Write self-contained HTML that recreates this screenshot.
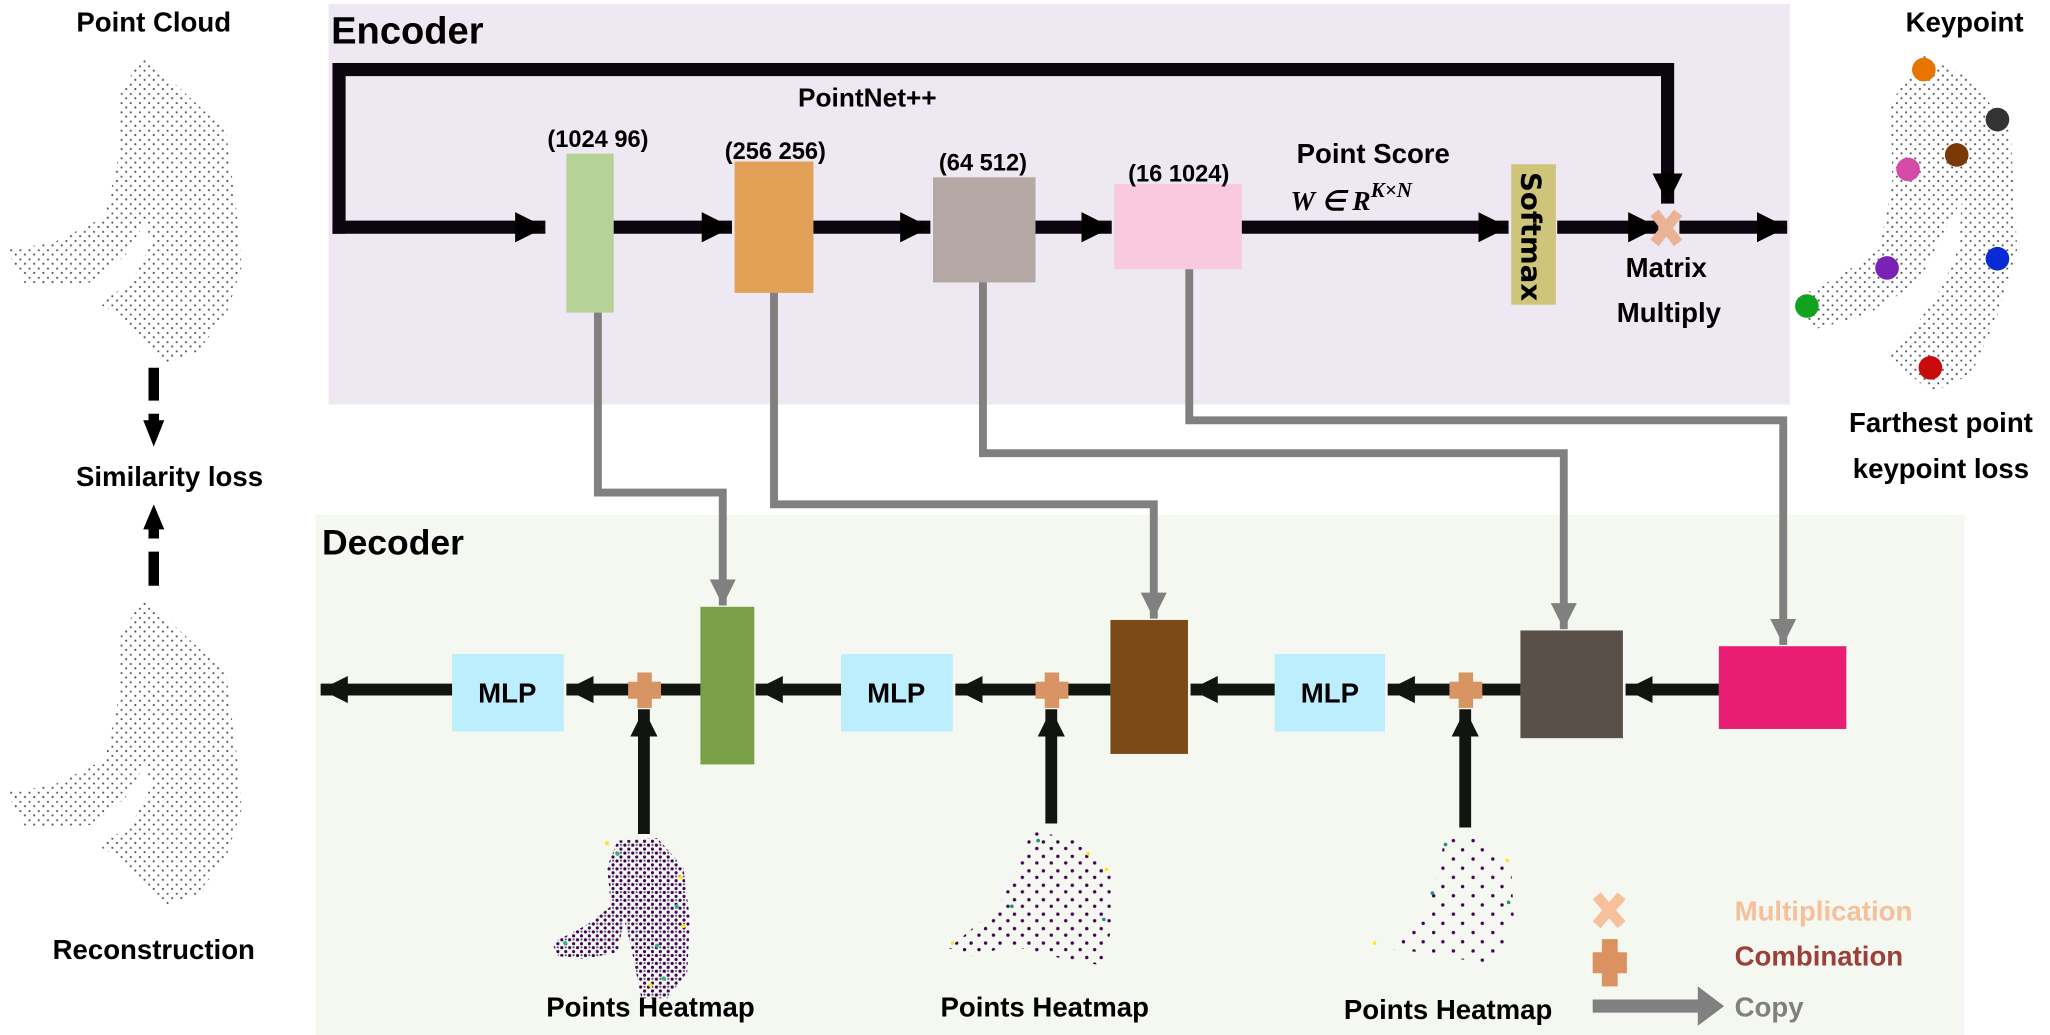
<!DOCTYPE html>
<html><head><meta charset="utf-8"><style>
html,body{margin:0;padding:0;background:#fff;}
svg{display:block;}
text{font-family:"Liberation Sans",sans-serif;font-weight:bold;fill:#000;}
</style></head><body>
<svg width="2050" height="1035" viewBox="0 0 1560 788" preserveAspectRatio="none" xmlns="http://www.w3.org/2000/svg">
<defs>
<pattern id="gd" width="7" height="7" patternUnits="userSpaceOnUse">
<circle cx="1.5" cy="1.5" r="0.8" fill="#555"/><circle cx="5" cy="4.8" r="0.8" fill="#555"/>
</pattern>
<pattern id="hm1" width="6" height="6" patternUnits="userSpaceOnUse">
<circle cx="1.5" cy="1.5" r="1.2" fill="#440154"/><circle cx="4.5" cy="4.5" r="1.2" fill="#440154"/><circle cx="4.5" cy="1.3" r="0.8" fill="#3b528b"/>
</pattern>
<pattern id="hm2" width="11" height="11" patternUnits="userSpaceOnUse">
<circle cx="2" cy="3" r="1.3" fill="#440154"/><circle cx="8" cy="8" r="1.3" fill="#440154"/>
</pattern>
<pattern id="hm3" width="15" height="14" patternUnits="userSpaceOnUse">
<circle cx="3" cy="3" r="1.3" fill="#440154"/><circle cx="11" cy="10" r="1.3" fill="#440154"/>
</pattern>
<marker id="ab" viewBox="0 0 10 10" refX="10" refY="5" markerWidth="2.3" markerHeight="3.2" orient="auto" markerUnits="strokeWidth"><path d="M0,0 L10,5 L0,10 Z" fill="#000"/></marker>
<marker id="ad" viewBox="0 0 10 10" refX="10" refY="5" markerWidth="2.3" markerHeight="3.2" orient="auto" markerUnits="strokeWidth"><path d="M0,0 L10,5 L0,10 Z" fill="#12140f"/></marker>
<marker id="ag" viewBox="0 0 10 10" refX="10" refY="5" markerWidth="3.3" markerHeight="5" orient="auto" markerUnits="strokeWidth"><path d="M0,0 L10,5 L0,10 Z" fill="#808080"/></marker>
</defs>

<rect x="250" y="3" width="1112" height="305" fill="#eee8f3"/>
<rect x="240" y="392" width="1255" height="396" fill="#f5f8f0"/>
<text x="252" y="33" font-size="29">Encoder</text>
<text x="245" y="422" font-size="27">Decoder</text>

<polyline points="258,178 258,53 1269,53 1269,155" fill="none" stroke="#0a050f" stroke-width="10" marker-end="url(#ab)"/>
<line x1="253" y1="173" x2="415" y2="173" stroke="#0a050f" stroke-width="10" marker-end="url(#ab)"/>

<rect x="431" y="117" width="36" height="121" fill="#b6d297"/>
<rect x="559" y="123" width="60" height="100" fill="#e3a157"/>
<rect x="710" y="135" width="78" height="80" fill="#b3a8a3"/>
<rect x="848" y="140" width="97" height="65" fill="#f8c9df"/>
<rect x="1150" y="125" width="34" height="107" fill="#cfc57a"/>
<text transform="translate(1158,131) rotate(90)" font-size="21" style="font-family:'DejaVu Sans',sans-serif">Softmax</text>

<g stroke="#0a050f" stroke-width="10">
<line x1="467" y1="173" x2="557" y2="173" marker-end="url(#ab)"/>
<line x1="619" y1="173" x2="708" y2="173" marker-end="url(#ab)"/>
<line x1="788" y1="173" x2="846" y2="173" marker-end="url(#ab)"/>
<line x1="945" y1="173" x2="1148" y2="173" marker-end="url(#ab)"/>
<line x1="1185" y1="173" x2="1262" y2="173" marker-end="url(#ab)"/>
<line x1="1278" y1="173" x2="1360" y2="173" marker-end="url(#ab)"/>
</g>
<g stroke="#eab396" stroke-width="8">
<line x1="1259" y1="162" x2="1277" y2="185"/><line x1="1277" y1="162" x2="1259" y2="185"/>
</g>

<text x="455" y="112" font-size="18" text-anchor="middle">(1024 96)</text>
<text x="590" y="121" font-size="18" text-anchor="middle">(256 256)</text>
<text x="748" y="130" font-size="18" text-anchor="middle">(64 512)</text>
<text x="897" y="138" font-size="18" text-anchor="middle">(16 1024)</text>
<text x="660" y="81" font-size="20" text-anchor="middle">PointNet++</text>
<text x="1045" y="124" font-size="21" text-anchor="middle">Point Score</text>
<text x="982" y="160" font-size="21" font-style="italic" style="font-family:'Liberation Serif',serif">W ∈ R<tspan font-size="16" dy="-10">K×N</tspan></text>
<text x="1268" y="211" font-size="21" text-anchor="middle">Matrix</text>
<text x="1270" y="245" font-size="21" text-anchor="middle">Multiply</text>

<g fill="none" stroke="#808080" stroke-width="6">
<polyline points="455,238 455,375 550,375 550,461" marker-end="url(#ag)"/>
<polyline points="589,223 589,384 878,384 878,471" marker-end="url(#ag)"/>
<polyline points="748,215 748,345 1190,345 1190,479" marker-end="url(#ag)"/>
<polyline points="905,205 905,320 1357,320 1357,491" marker-end="url(#ag)"/>
</g>

<rect x="533" y="462" width="41" height="120" fill="#79a047"/>
<rect x="845" y="472" width="59" height="102" fill="#7b4a17"/>
<rect x="1157" y="480" width="78" height="82" fill="#595049"/>
<rect x="1308" y="492" width="97" height="63" fill="#e91e73"/>
<rect x="344" y="498" width="85" height="59" fill="#bdeefd"/>
<rect x="640" y="498" width="85" height="59" fill="#bdeefd"/>
<rect x="970" y="498" width="84" height="59" fill="#bdeefd"/>
<text x="386" y="535" font-size="21" text-anchor="middle">MLP</text>
<text x="682" y="535" font-size="21" text-anchor="middle">MLP</text>
<text x="1012" y="535" font-size="21" text-anchor="middle">MLP</text>

<g stroke="#12140f" stroke-width="9">
<line x1="1308" y1="525" x2="1237" y2="525" marker-end="url(#ad)"/>
<line x1="1157" y1="525" x2="1118" y2="525"/>
<line x1="1110" y1="525" x2="1056" y2="525" marker-end="url(#ad)"/>
<line x1="970" y1="525" x2="906" y2="525" marker-end="url(#ad)"/>
<line x1="845" y1="525" x2="800" y2="525"/>
<line x1="795" y1="525" x2="727" y2="525" marker-end="url(#ad)"/>
<line x1="640" y1="525" x2="575" y2="525" marker-end="url(#ad)"/>
<line x1="533" y1="525" x2="490" y2="525"/>
<line x1="485" y1="525" x2="431" y2="525" marker-end="url(#ad)"/>
<line x1="344" y1="525" x2="244" y2="525" marker-end="url(#ad)"/>
<line x1="490" y1="635" x2="490" y2="540" marker-end="url(#ad)"/>
<line x1="800" y1="627" x2="800" y2="540" marker-end="url(#ad)"/>
<line x1="1115" y1="630" x2="1115" y2="540" marker-end="url(#ad)"/>
</g>
<g fill="#d99464">
<rect x="485" y="512" width="11" height="27"/><rect x="478" y="519" width="25" height="13"/>
<rect x="795" y="512" width="11" height="27"/><rect x="788" y="519" width="25" height="13"/>
<rect x="1110" y="512" width="11" height="27"/><rect x="1103" y="519" width="25" height="13"/>
</g>

<path d="M470,640 L500,638 L520,660 L525,700 L523,740 L508,760 L488,760 L480,720 L475,700 L470,725 L445,730 L425,728 L420,718 L445,705 L465,690 L462,660 Z" fill="url(#hm1)"/>
<g fill="#35b779"><circle cx="470" cy="650" r="1.6"/><circle cx="515" cy="690" r="1.6"/><circle cx="500" cy="720" r="1.6"/><circle cx="430" cy="718" r="1.6"/><circle cx="505" cy="745" r="1.6"/></g>
<g fill="#fde725"><circle cx="518" cy="668" r="1.6"/><circle cx="462" cy="642" r="1.6"/><circle cx="520" cy="705" r="1.6"/><circle cx="495" cy="750" r="1.6"/></g>
<path d="M785,632 L820,640 L845,665 L848,700 L838,735 L800,728 L770,720 L740,728 L722,722 L760,690 L775,660 Z" fill="url(#hm2)"/>
<g fill="#fde725"><circle cx="842" cy="662" r="1.4"/><circle cx="725" cy="718" r="1.4"/><circle cx="828" cy="650" r="1.4"/></g>
<g fill="#21918c"><circle cx="790" cy="640" r="1.4"/><circle cx="770" cy="690" r="1.4"/><circle cx="840" cy="700" r="1.4"/></g>
<path d="M1100,635 L1130,640 L1150,660 L1152,700 L1140,735 L1110,730 L1080,725 L1055,722 L1085,690 L1095,660 Z" fill="url(#hm3)"/>
<g fill="#fde725"><circle cx="1147" cy="655" r="1.4"/><circle cx="1046" cy="718" r="1.4"/></g>
<g fill="#21918c"><circle cx="1100" cy="643" r="1.4"/><circle cx="1148" cy="687" r="1.4"/><circle cx="1090" cy="680" r="1.4"/></g>

<text x="495" y="774" font-size="21" text-anchor="middle">Points Heatmap</text>
<text x="795" y="774" font-size="21" text-anchor="middle">Points Heatmap</text>
<text x="1102" y="776" font-size="21" text-anchor="middle">Points Heatmap</text>

<g stroke="#f5c09a" stroke-width="8"><line x1="1215" y1="682" x2="1234" y2="704"/><line x1="1234" y1="682" x2="1215" y2="704"/></g>
<g fill="#dc9260"><rect x="1219" y="715" width="12" height="36"/><rect x="1212" y="725" width="26" height="16"/></g>
<line x1="1212" y1="766" x2="1296" y2="766" stroke="#808080" stroke-width="10"/>
<path d="M1292,751 L1312,766 L1292,781 Z" fill="#808080"/>
<text x="1320" y="701" font-size="21" style="fill:#f5c09a">Multiplication</text>
<text x="1320" y="735" font-size="21" style="fill:#9a3f3a">Combination</text>
<text x="1320" y="774" font-size="21" style="fill:#808080">Copy</text>

<text x="117" y="24" font-size="21" text-anchor="middle">Point Cloud</text>
<path d="M109,42 L140,70 L172,100 L180,160 L184,203 L172,240 L150,268 L127,276 L110,262 L90,240 L75,231 L100,215 L115,185 L110,170 L95,195 L70,215 L20,218 L5,190 L40,185 L80,165 L90,120 L92,70 Z" fill="url(#gd)"/>
<g stroke="#000" stroke-width="8"><line x1="117" y1="280" x2="117" y2="305"/><line x1="117" y1="315" x2="117" y2="322"/></g>
<path d="M109,320 L125,320 L117,340 Z" fill="#000"/>
<text x="129" y="370" font-size="21" text-anchor="middle">Similarity loss</text>
<path d="M109,403 L125,403 L117,384 Z" fill="#000"/>
<g stroke="#000" stroke-width="8"><line x1="117" y1="400" x2="117" y2="410"/><line x1="117" y1="420" x2="117" y2="446"/></g>
<path d="M109,42 L140,70 L172,100 L180,160 L184,203 L172,240 L150,268 L127,276 L110,262 L90,240 L75,231 L100,215 L115,185 L110,170 L95,195 L70,215 L20,218 L5,190 L40,185 L80,165 L90,120 L92,70 Z" fill="url(#gd)" transform="translate(0,413)"/>
<text x="117" y="730" font-size="21" text-anchor="middle">Reconstruction</text>

<text x="1495" y="24" font-size="21" text-anchor="middle">Keypoint</text>
<path d="M1463,42 L1500,60 L1530,100 L1535,190 L1520,240 L1500,285 L1470,299 L1435,270 L1460,245 L1478,218 L1490,190 L1493,152 L1480,175 L1460,215 L1420,240 L1380,251 L1365,228 L1400,210 L1430,190 L1440,140 L1439,78 Z" fill="url(#gd)"/>
<g>
<circle cx="1464" cy="53" r="9" fill="#e87400"/>
<circle cx="1520" cy="91" r="9" fill="#333"/>
<circle cx="1489" cy="118" r="9" fill="#7b3a05"/>
<circle cx="1452" cy="129" r="9" fill="#d44aa6"/>
<circle cx="1436" cy="204" r="9" fill="#7a22b5"/>
<circle cx="1520" cy="197" r="9" fill="#0a2ad6"/>
<circle cx="1375" cy="233" r="9" fill="#11a220"/>
<circle cx="1469" cy="280" r="9" fill="#c90b0b"/>
</g>
<text x="1477" y="329" font-size="21" text-anchor="middle">Farthest point</text>
<text x="1477" y="364" font-size="21" text-anchor="middle">keypoint loss</text>
</svg>
</body></html>
